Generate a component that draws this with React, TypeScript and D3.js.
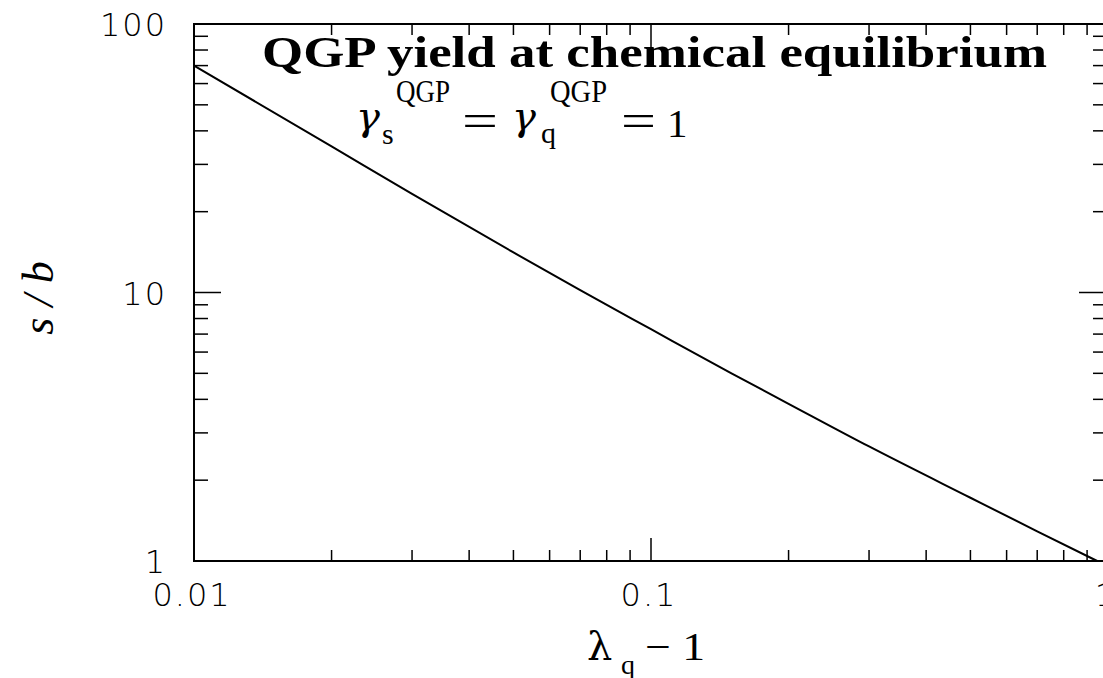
import React from "react";
import * as d3 from "d3";

// Data (log-log)
const lambdaMinus1 = [0.01, 0.02, 0.03, 0.05, 0.07, 0.1, 0.15, 0.2, 0.3, 0.5, 0.7, 0.947];
const sOverB = [70, 35, 23.3, 14.1, 10.2, 7.3, 5.0, 3.85, 2.67, 1.72, 1.29, 1.0];

const xMajorTicks = [0.01, 0.1, 1];
const xTickLabels = ["0.01", "0.1", "1"];
const yMajorTicks = [1, 10, 100];
const yTickLabels = ["1", "10", "100"];

const titleText = "QGP yield at chemical equilibrium";

const W = 1103;
const H = 678;
const M = { left: 194, top: 24, right: 1108, bottom: 561 };

export default function App() {
  const x = d3.scaleLog().domain([0.01, 1]).range([M.left, M.right]);
  const y = d3.scaleLog().domain([1, 100]).range([M.bottom, M.top]);

  const isMajor = (v: number) => Math.abs(Math.log10(v) - Math.round(Math.log10(v))) < 1e-6;
  const xt = x.ticks();
  const yt = y.ticks();

  const line = d3
    .line<number>()
    .x((_, i) => x(lambdaMinus1[i]))
    .y((d) => y(d))
    .curve(d3.curveMonotoneX);

  const tickFont = "'DejaVu Sans', sans-serif";
  const serif = "'Liberation Serif', 'DejaVu Serif', serif";
  const mathSerif = "'DejaVu Serif', 'Liberation Serif', serif";

  return (
    <svg
      width={W}
      height={H}
      style={{ position: "absolute", left: 0, top: 0, background: "#fff" }}
    >
      {/* frame */}
      <rect
        x={M.left}
        y={M.top}
        width={M.right - M.left}
        height={M.bottom - M.top}
        fill="none"
        stroke="#000"
        strokeWidth={2}
      />
      {/* x ticks bottom & top */}
      {xt.map((v, i) => {
        const len = isMajor(v) ? 23 : 11;
        const px = x(v);
        return (
          <g key={"xt" + i} stroke="#000" strokeWidth={1.5}>
            <line x1={px} x2={px} y1={M.bottom} y2={M.bottom - len} />
            <line x1={px} x2={px} y1={M.top} y2={M.top + len} />
          </g>
        );
      })}
      {/* y ticks left & right */}
      {yt.map((v, i) => {
        const major = isMajor(v);
        const lenL = major ? 27 : 14;
        const lenR = major ? 29 : 15;
        const py = y(v);
        return (
          <g key={"yt" + i} stroke="#000" strokeWidth={1.5}>
            <line x1={M.left} x2={M.left + lenL} y1={py} y2={py} />
            <line x1={M.right} x2={M.right - lenR} y1={py} y2={py} />
          </g>
        );
      })}
      {/* x tick labels */}
      {xMajorTicks.map((v, i) => (
        <text
          key={"xl" + i}
          x={x(v) - 2}
          y={606}
          textAnchor="middle"
          fontFamily={tickFont}
          fontWeight={200}
          fontSize={32}
          letterSpacing={2}
          fill="#000"
        >
          {xTickLabels[i]}
        </text>
      ))}
      {/* y tick labels */}
      {yMajorTicks.map((v, i) => (
        <text
          key={"yl" + i}
          x={167}
          y={y(v) + 12}
          textAnchor="end"
          fontFamily={tickFont}
          fontWeight={200}
          fontSize={32}
          letterSpacing={2}
          fill="#000"
        >
          {yTickLabels[i]}
        </text>
      ))}
      {/* curve */}
      <path d={line(sOverB) || ""} fill="none" stroke="#000" strokeWidth={2} />
      {/* title */}
      <text
        x={262}
        y={67}
        fontFamily={serif}
        fontWeight="bold"
        fontSize={45}
        textLength={785}
        lengthAdjust="spacingAndGlyphs"
        fill="#000"
      >
        {titleText}
      </text>
      {/* subtitle: gamma_s^QGP = gamma_q^QGP = 1 */}
      <g fontFamily={serif} fill="#000">
        <text x={356} y={130} fontSize={40} fontStyle="italic" fontFamily={mathSerif}>γ</text>
        <text x={382} y={144} fontSize={30}>s</text>
        <text x={396} y={102} fontSize={31} textLength={54} lengthAdjust="spacingAndGlyphs">QGP</text>
        <text x={462} y={136} fontSize={46} textLength={36} lengthAdjust="spacingAndGlyphs">=</text>
        <text x={512} y={130} fontSize={40} fontStyle="italic" fontFamily={mathSerif}>γ</text>
        <text x={541} y={143} fontSize={30}>q</text>
        <text x={550} y={102} fontSize={31} textLength={57} lengthAdjust="spacingAndGlyphs">QGP</text>
        <text x={621} y={136} fontSize={46} textLength={35} lengthAdjust="spacingAndGlyphs">=</text>
        <text x={667} y={137} fontSize={41}>1</text>
      </g>
      {/* x axis title */}
      <g fill="#000">
        <text x={587} y={660} fontSize={40} fontFamily={mathSerif}>λ</text>
        <text x={621} y={674} fontSize={28} fontFamily={serif}>q</text>
        <text x={645} y={660} fontSize={40} fontFamily={serif} textLength={60} lengthAdjust="spacingAndGlyphs">− 1</text>
      </g>
      {/* y axis title */}
      <text
        transform="translate(53,298) rotate(-90)"
        textAnchor="middle"
        fontFamily={serif}
        fontStyle="italic"
        fontSize={44}
        fill="#000"
      >
        s / b
      </text>
    </svg>
  );
}
